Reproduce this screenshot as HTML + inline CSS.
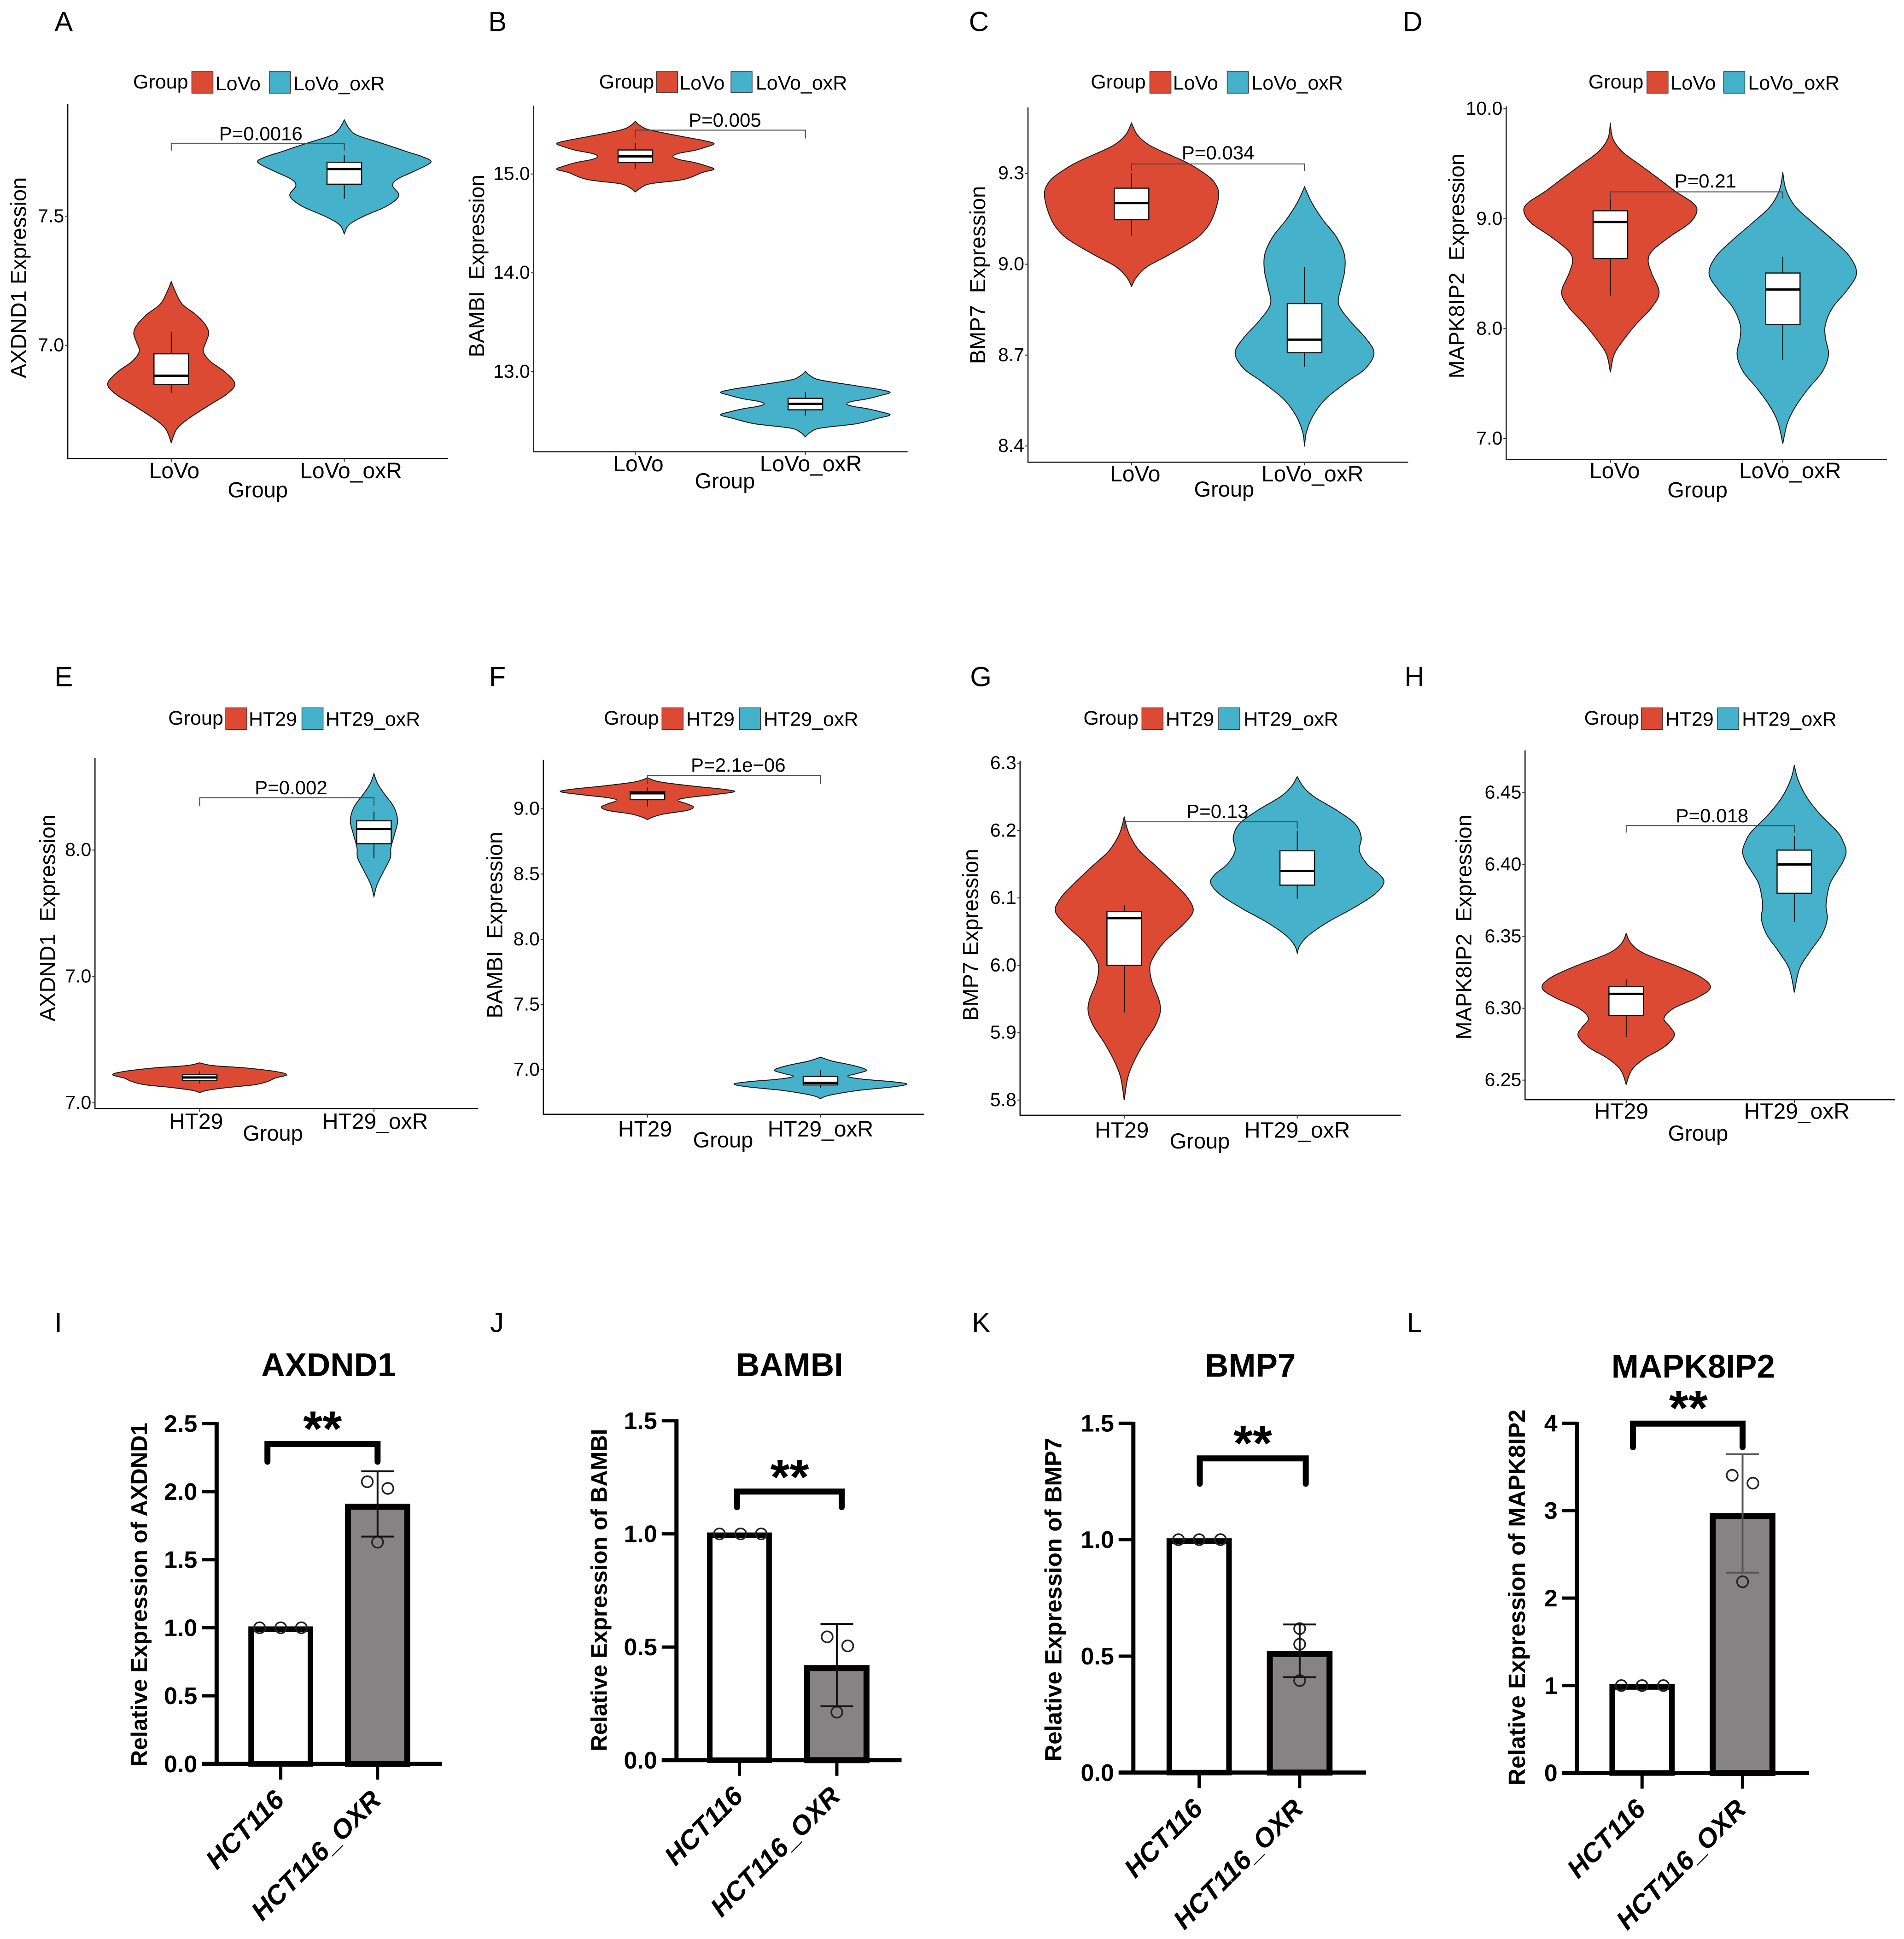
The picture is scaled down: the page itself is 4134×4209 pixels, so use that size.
<!DOCTYPE html>
<html lang="en">
<head>
<meta charset="utf-8">
<title>Expression violin and bar panels</title>
<style>
html,body{margin:0;padding:0;background:#fff;}
#figure{display:block;width:4134px;height:4209px;}
text{font-family:"Liberation Sans",Arial,sans-serif;fill:#000;white-space:pre;}
</style>
</head>
<body>
<svg id="figure" xmlns="http://www.w3.org/2000/svg" width="4134" height="4209" viewBox="0 0 4134 4209"></svg>
<script>
/* ---------- shared categories ---------- */
const categoriesLoVo = ['LoVo', 'LoVo_oxR'];
const categoriesHT29 = ['HT29', 'HT29_oxR'];
const categoriesHCT = ['HCT116', 'HCT116_OXR'];

/* ---------- panel A ---------- */
const ticksA = [7.0, 7.5];
const tickLabelsA = ['7.0', '7.5'];
const pLabelA = 'P=0.0016';
const pBracketA = [7.783];
const valueA1 = [7.247,7.212,7.160,7.120,7.081,7.048,7.016,6.976,6.937,6.898,6.852,6.813,6.767,6.715,6.675,6.623];
const densityA1 = [0,.06,.18,.40,.56,.62,.58,.53,.65,.88,1.05,.93,.62,.28,.09,0];
const boxA1 = [6.815,6.848,6.882,6.967,7.052];
const valueA2 = [7.873,7.840,7.814,7.788,7.768,7.749,7.729,7.709,7.677,7.644,7.618,7.579,7.539,7.500,7.467,7.432];
const densityA2 = [0,.08,.21,.55,.81,1.05,1.31,1.43,1.18,.88,.80,.90,.70,.32,.08,0];
const boxA2 = [7.568,7.624,7.683,7.709,7.736];

/* ---------- panel B ---------- */
const ticksB = [13, 14, 15];
const tickLabelsB = ['13.0', '14.0', '15.0'];
const pLabelB = 'P=0.005';
const pBracketB = [15.444];
const valueB1 = [15.533,15.489,15.444,15.376,15.342,15.308,15.273,15.239,15.209,15.178,15.147,15.116,15.082,15.048,15.014,14.945,14.901,14.856,14.819];
const densityB1 = [0,.08,.25,.80,1.1,1.3,1.17,.98,.72,.62,.72,.98,1.17,1.3,1.1,.8,.25,.08,0];
const boxB1 = [15.051,15.116,15.178,15.243,15.311];
const valueB2 = [13.003,12.959,12.915,12.856,12.822,12.791,12.760,12.726,12.700,12.675,12.650,12.624,12.593,12.562,12.528,12.474,12.429,12.385,12.340];
const densityB2 = [0,.08,.25,.85,1.2,1.4,1.25,1.03,.78,.68,.78,1.03,1.25,1.4,1.2,.85,.25,.08,0];
const boxB2 = [12.556,12.614,12.675,12.730,12.795];

/* ---------- panel C ---------- */
const ticksC = [8.4, 8.7, 9.0, 9.3];
const tickLabelsC = ['8.4', '8.7', '9.0', '9.3'];
const pLabelC = 'P=0.034';
const pBracketC = [9.331];
const valueC1 = [9.466,9.426,9.392,9.359,9.331,9.292,9.264,9.231,9.180,9.130,9.091,9.058,9.024,8.991,8.957,8.927];
const densityC1 = [0,.10,.30,.65,.95,1.25,1.38,1.43,1.38,1.27,1.1,.85,.55,.25,.08,0];
const boxC1 = [9.095,9.147,9.202,9.251,9.300];
const valueC2 = [9.255,9.203,9.147,9.091,9.035,8.980,8.924,8.868,8.812,8.757,8.707,8.656,8.612,8.556,8.500,8.445,8.398];
const densityC2 = [0,.12,.30,.52,.65,.66,.60,.56,.75,1.0,1.14,1.0,.70,.35,.14,.03,0];
const boxC2 = [8.662,8.708,8.751,8.870,8.991];

/* ---------- panel D ---------- */
const ticksD = [7, 8, 9, 10];
const tickLabelsD = ['7.0', '8.0', '9.0', '10.0'];
const pLabelD = 'P=0.21';
const pBracketD = [9.244];
const valueD1 = [9.874,9.730,9.607,9.484,9.361,9.244,9.146,9.069,8.961,8.838,8.715,8.623,8.500,8.331,8.193,8.039,7.885,7.762,7.603];
const densityD1 = [0,.04,.20,.50,.80,1.08,1.35,1.42,1.30,.98,.70,.62,.68,.80,.68,.42,.20,.06,0];
const boxD1 = [8.300,8.638,8.970,9.072,9.177];
const valueD2 = [9.422,9.269,9.115,8.961,8.808,8.654,8.500,8.346,8.193,8.039,7.916,7.762,7.609,7.455,7.301,7.148,6.954];
const densityD2 = [0,.05,.20,.50,.82,1.10,1.21,1.05,.82,.70,.70,.75,.65,.42,.22,.08,0];
const boxD2 = [7.716,8.036,8.356,8.506,8.654];

/* ---------- panel E ---------- */
const ticksE = [7.0, 7.5, 8.0];
const tickLabelsE = ['7.0', '7.0', '8.0'];
const pLabelE = 'P=0.002';
const pBracketE = [8.207];
const valueE1 = [7.158,7.147,7.138,7.124,7.111,7.098,7.084,7.071,7.060,7.049,7.040];
const densityE1 = [0,.22,.75,1.25,1.44,1.25,1.12,.90,.45,.12,0];
const boxE1 = [7.076,7.088,7.100,7.112,7.124];
const valueE2 = [8.302,8.263,8.223,8.170,8.116,8.063,8.009,7.969,7.916,7.862,7.816];
const densityE2 = [0,.06,.17,.33,.39,.34,.28,.27,.16,.05,0];
const boxE2 = [7.967,8.025,8.083,8.116,8.152];

/* ---------- panel F ---------- */
const ticksF = [7.0, 7.5, 8.0, 8.5, 9.0];
const tickLabelsF = ['7.0', '7.5', '8.0', '8.5', '9.0'];
const pLabelF = 'P=2.1e\u221206';
const pBracketF = [9.254];
const valueF1 = [9.238,9.207,9.174,9.153,9.132,9.109,9.085,9.065,9.039,9.013,8.987,8.961,8.935,8.917];
const densityF1 = [0,.20,.75,1.20,1.44,1.10,.65,.50,.65,.76,.65,.28,.08,0];
const boxF1 = [9.018,9.070,9.119,9.132,9.163];
const valueF2 = [7.096,7.065,7.031,6.997,6.972,6.948,6.927,6.907,6.889,6.868,6.842,6.816,6.795,6.777];
const densityF2 = [0,.20,.55,.76,.62,.45,.70,1.20,1.43,1.20,.65,.28,.08,0];
const boxF2 = [6.858,6.883,6.899,6.948,7.000];

/* ---------- panel G ---------- */
const ticksG = [5.8, 5.9, 6.0, 6.1, 6.2, 6.3];
const tickLabelsG = ['5.8', '5.9', '6.0', '6.1', '6.2', '6.3'];
const pLabelG = 'P=0.13';
const pBracketG = [6.213];
const valueG1 = [6.220,6.195,6.170,6.145,6.119,6.099,6.080,6.059,6.034,6.009,5.994,5.974,5.949,5.930,5.909,5.884,5.859,5.834,5.800];
const densityG1 = [0,.08,.25,.55,.85,1.05,1.13,.95,.65,.46,.42,.46,.57,.59,.50,.32,.17,.06,0];
const boxG1 = [5.930,6.000,6.070,6.080,6.089];
const valueG2 = [6.280,6.265,6.250,6.230,6.210,6.190,6.170,6.150,6.135,6.122,6.104,6.084,6.064,6.044,6.029,6.018];
const densityG2 = [0,.10,.28,.65,.95,1.05,1.02,1.15,1.35,1.42,1.25,.90,.50,.18,.04,0];
const boxG2 = [6.099,6.119,6.140,6.170,6.200];

/* ---------- panel H ---------- */
const ticksH = [6.25, 6.30, 6.35, 6.40, 6.45];
const tickLabelsH = ['6.25', '6.30', '6.35', '6.40', '6.45'];
const pLabelH = 'P=0.018';
const pBracketH = [6.427];
const valueH1 = [6.352,6.345,6.338,6.329,6.321,6.314,6.307,6.300,6.293,6.287,6.281,6.273,6.265,6.257,6.247];
const densityH1 = [0,.08,.30,.85,1.25,1.38,1.15,.78,.62,.72,.79,.62,.30,.09,0];
const boxH1 = [6.280,6.295,6.310,6.315,6.320];
const valueH2 = [6.469,6.459,6.447,6.435,6.423,6.416,6.409,6.402,6.395,6.386,6.372,6.362,6.351,6.339,6.327,6.311];
const densityH2 = [0,.06,.20,.42,.70,.80,.85,.80,.70,.58,.52,.54,.45,.25,.08,0];
const boxH2 = [6.360,6.380,6.400,6.410,6.420];

/* ---------- bar panels I-L ---------- */
const barTicksI = [0, 0.5, 1.0, 1.5, 2.0, 2.5];
const barTickLabelsI = ['0.0', '0.5', '1.0', '1.5', '2.0', '2.5'];
const barMeansI = [1.0, 1.90];
const barErrorHighI = [2.15];
const barErrorLowI = [1.67];
const controlPointsI = [1.0, 1.0, 1.0];
const treatedPointsI = [2.073, 2.024, 1.629];
const sigBracketI = [2.35, 2.22];

const barTicksJ = [0, 0.5, 1.0, 1.5];
const barTickLabelsJ = ['0.0', '0.5', '1.0', '1.5'];
const barMeansJ = [1.0, 0.413];
const barErrorHighJ = [0.602];
const barErrorLowJ = [0.238];
const controlPointsJ = [1.0, 1.0, 1.0];
const treatedPointsJ = [0.545, 0.505, 0.212];
const sigBracketJ = [1.187, 1.118];

const barTicksK = [0, 0.5, 1.0, 1.5];
const barTickLabelsK = ['0.0', '0.5', '1.0', '1.5'];
const barMeansK = [1.0, 0.515];
const barErrorHighK = [0.636];
const barErrorLowK = [0.409];
const controlPointsK = [1.0, 1.0, 1.0];
const treatedPointsK = [0.618, 0.551, 0.395];
const sigBracketK = [1.349, 1.240];

const barTicksL = [0, 1, 2, 3, 4];
const barTickLabelsL = ['0', '1', '2', '3', '4'];
const barMeansL = [1.0, 2.954];
const barErrorHighL = [3.645];
const barErrorLowL = [2.291];
const controlPointsL = [1.0, 1.0, 1.0];
const treatedPointsL = [3.404, 3.314, 2.187];
const sigBracketL = [3.995, 3.725];

/* ---------- layout (scale constants) ---------- */
const Z = 1568;
const KXL = 2060 / Z, KXR = 2074 / Z, KY1 = 1150 / Z, KY3 = 1409 / Z;
const RED = '#DC4A34', TEAL = '#45B1CA', GREY = '#858383';
const svg = document.getElementById('figure');
const NS = 'http://www.w3.org/2000/svg';

function make(tag, attrs, text, parent) {
  const el = document.createElementNS(NS, tag);
  for (const k in attrs) el.setAttribute(k, attrs[k]);
  if (text !== undefined) el.textContent = text;
  (parent || svg).appendChild(el);
  return el;
}

function smoothPath(pts) {
  let d = '';
  for (let i = 0; i < pts.length - 1; i++) {
    const p0 = pts[Math.max(0, i - 1)], p1 = pts[i], p2 = pts[i + 1], p3 = pts[Math.min(pts.length - 1, i + 2)];
    const c1x = p1[0] + (p2[0] - p0[0]) / 6, c1y = p1[1] + (p2[1] - p0[1]) / 6;
    const c2x = p2[0] - (p3[0] - p1[0]) / 6, c2y = p2[1] - (p3[1] - p1[1]) / 6;
    d += ' C' + c1x.toFixed(1) + ' ' + c1y.toFixed(1) + ' ' + c2x.toFixed(1) + ' ' + c2y.toFixed(1) + ' ' + p2[0].toFixed(1) + ' ' + p2[1].toFixed(1);
  }
  return d;
}

function panelLetter(p, sx, sy) {
  const t = make('text', { x: sx(p.letterX), y: sy(p.letterBase), 'font-size': 60 }, p.letter);
  
  
}

/* ---------- violin panel ---------- */
function drawViolinPanel(p) {
  const g = make('g', {});
  
  
  const sx = z => p.ox + z * p.kx;
  const sy = z => p.oy + z * p.ky;
  const yAxis = v => sy(p.z0 + (v - p.v0) * (p.z1 - p.z0) / (p.v1 - p.v0));
  const xAxis = i => sx(p.catX[i]);
  const densityScale = 100 * p.kx;

  panelLetter(p, sx, sy);

  /* legend */
  const lg = p.legend;
  const lt = make('text', { x: sx(lg.group), y: sy(lg.base), 'font-size': 43 }, 'Group', g);
  
  
  [[lg.s1, lg.t1, RED], [lg.s2, lg.t2, TEAL]].forEach((e, i) => {
    const sw = make('rect', { x: sx(e[0]), y: sy(lg.top), width: 46, height: sy(lg.bot) - sy(lg.top), fill: e[2], stroke: '#333', 'stroke-width': 1.5 }, undefined, g);
    
    
    const tx = make('text', { x: sx(e[1]), y: sy(lg.lbase) - 2, 'font-size': 43 }, p.cats[i], g);
    
    
  });

  /* axes */
  const ya = make('line', { x1: sx(p.l), x2: sx(p.l), y1: sy(p.t), y2: sy(p.b) + 1, stroke: '#111', 'stroke-width': 2.5 }, undefined, g);
  
  
  const xa = make('line', { x1: sx(p.l), x2: sx(p.r), y1: sy(p.b), y2: sy(p.b), stroke: '#111', 'stroke-width': 2.5 }, undefined, g);
  
  

  p.ticks.forEach((v, i) => {
    const tk = make('line', { x1: sx(p.l) - 6, x2: sx(p.l), y1: yAxis(v), y2: yAxis(v), stroke: '#333', 'stroke-width': 2 }, undefined, g);
    
    
    const tl = make('text', { x: sx(p.l) - 8, y: yAxis(v) + 13, 'font-size': 41, 'text-anchor': 'end' }, p.tickLabels[i], g);
    
    
  });

  p.cats.forEach((c, i) => {
    const tk = make('line', { x1: xAxis(i), x2: xAxis(i), y1: sy(p.b), y2: sy(p.b) + 7, stroke: '#333', 'stroke-width': 2 }, undefined, g);
    
    
    const tl = make('text', { x: sx(p.catLabelX[i]), y: sy(p.catBase), 'font-size': 48, 'text-anchor': 'middle' }, c, g);
    
    
  });

  const xt = make('text', { x: sx(p.groupX), y: sy(p.groupBase), 'font-size': 47, 'text-anchor': 'middle' }, 'Group', g);
  
  

  const tx0 = sx(p.titleX) + 17, ty0 = sy(p.titleY);
  const yt = make('text', { x: tx0, y: ty0, 'font-size': p.titleSize || 47, 'text-anchor': 'middle', transform: 'rotate(-90 ' + tx0 + ' ' + ty0 + ')' }, p.title, g);
  
  

  /* violins */
  p.violins.forEach((vn, i) => {
    const cx = xAxis(i);
    const right = vn.values.map((v, k) => [cx + vn.density[k] * densityScale, yAxis(v)]);
    const left = vn.values.map((v, k) => [cx - vn.density[k] * densityScale, yAxis(v)]).reverse();
    const d = 'M' + right[0][0].toFixed(1) + ' ' + right[0][1].toFixed(1) + smoothPath(right) + smoothPath(left) + ' Z';
    const path = make('path', { d: d, fill: i ? TEAL : RED, stroke: '#1a1a1a', 'stroke-width': 2 }, undefined, g);
    
    

    const b = vn.box;
    const wh = make('line', { x1: cx, x2: cx, y1: yAxis(b[0]), y2: yAxis(b[4]), stroke: '#111', 'stroke-width': 2 }, undefined, g);
    
    
    const bw = 37.5;
    const rc = make('rect', { x: cx - bw, width: bw * 2, y: yAxis(b[3]), height: yAxis(b[1]) - yAxis(b[3]), fill: '#fff', stroke: '#111', 'stroke-width': 2.5 }, undefined, g);
    
    
    const md = make('line', { x1: cx - bw, x2: cx + bw, y1: yAxis(b[2]), y2: yAxis(b[2]), stroke: '#000', 'stroke-width': 5 }, undefined, g);
    
    
  });

  /* p-value bracket */
  const by = yAxis(p.pBracket[0]);
  const br = make('path', { d: 'M' + xAxis(0) + ' ' + (by + p.pTick) + ' V' + by + ' H' + xAxis(1) + ' V' + (by + p.pTick), fill: 'none', stroke: '#444', 'stroke-width': 2 }, undefined, g);
  
  
  const pt = make('text', { x: sx(p.pX), y: sy(p.pBase), 'font-size': 42, 'text-anchor': 'middle' }, p.pLabel, g);
  
  
}

/* ---------- bar panel ---------- */
function drawBarPanel(p) {
  const g = make('g', {});
  
  
  const sx = z => p.ox + z * p.kx;
  const sy = z => p.oy + z * p.ky;
  const yAxis = v => sy(p.z0 + (v - p.v0) * (p.z1 - p.z0) / (p.v1 - p.v0));
  const xAxis = i => sx(p.catX[i]);
  const zeroY = yAxis(0);

  panelLetter(p, sx, sy);

  const tt = make('text', { x: sx(p.titleCX), y: sy(p.titleBase), 'font-size': 71, 'font-weight': 700, 'text-anchor': 'middle' }, p.chartTitle, g);
  
  

  const tx0 = sx(p.titleX) + 17, ty0 = sy(p.titleY);
  const yt = make('text', { x: tx0, y: ty0, 'font-size': p.titleSize, 'font-weight': 700, 'text-anchor': 'middle', transform: 'rotate(-90 ' + tx0 + ' ' + ty0 + ')' }, p.title, g);
  
  

  /* bars */
  const halfBar = 49 * p.kx;
  p.means.forEach((m, i) => {
    const r = make('rect', { x: xAxis(i) - halfBar, width: halfBar * 2, y: yAxis(m) + 3, height: zeroY - yAxis(m) - 3, fill: i ? GREY : '#fff', stroke: '#000', 'stroke-width': i ? 13 : 12 }, undefined, g);
    
    
  });

  /* axes */
  const ya = make('line', { x1: sx(p.l), x2: sx(p.l), y1: yAxis(p.ticks[p.ticks.length - 1]) - 3, y2: zeroY + 3, stroke: '#000', 'stroke-width': 9 }, undefined, g);
  
  
  const xa = make('line', { x1: sx(p.l) - 32, x2: sx(p.r), y1: zeroY, y2: zeroY, stroke: '#000', 'stroke-width': 9 }, undefined, g);
  
  

  p.ticks.forEach((v, i) => {
    const tk = make('line', { x1: sx(p.l) - 32, x2: sx(p.l), y1: yAxis(v), y2: yAxis(v), stroke: '#000', 'stroke-width': 7 }, undefined, g);
    
    
    const tl = make('text', { x: sx(p.l) - 42, y: yAxis(v) + 18, 'font-size': 52, 'font-weight': 700, 'text-anchor': 'end' }, p.tickLabels[i], g);
    
    
  });

  p.cats.forEach((c, i) => {
    const tk = make('line', { x1: xAxis(i), x2: xAxis(i), y1: zeroY, y2: zeroY + 34, stroke: '#000', 'stroke-width': 7 }, undefined, g);
    
    
    const ax = xAxis(i) + 11, ay = zeroY + 82;
    const tl = make('text', { x: ax, y: ay, 'font-size': 58, 'font-weight': 700, 'font-style': 'italic', 'text-anchor': 'end', transform: 'rotate(-45 ' + ax + ' ' + ay + ')' }, c, g);
    
    
  });

  /* points */
  const dot = (cx, v, i) => {
    const c = make('circle', { cx: cx, cy: yAxis(v), r: 12, fill: 'none', stroke: '#222', 'stroke-width': 3.5 }, undefined, g);
    
    
  };
  p.control.forEach((v, k) => dot(xAxis(0) + p.jitter0[k] * p.kx, v, 0));
  p.treated.forEach((v, k) => dot(xAxis(1) + p.jitter1[k] * p.kx, v, 1));

  /* error bar */
  const ex = xAxis(1), cap = 27 * p.kx, ec = p.errColor;
  const eb = make('path', { d: 'M' + ex + ' ' + yAxis(p.errHigh[0]) + ' V' + yAxis(p.errLow[0]) + ' M' + (ex - cap) + ' ' + yAxis(p.errHigh[0]) + ' H' + (ex + cap) + ' M' + (ex - cap) + ' ' + yAxis(p.errLow[0]) + ' H' + (ex + cap), fill: 'none', stroke: ec, 'stroke-width': 4 }, undefined, g);
  
  

  /* significance */
  const bx0 = xAxis(0) + p.brOff[0] * p.kx, bx1 = xAxis(1) + p.brOff[1] * p.kx;
  const sb = make('path', { d: 'M' + bx0 + ' ' + yAxis(p.sig[1]) + ' V' + yAxis(p.sig[0]) + ' H' + bx1 + ' V' + yAxis(p.sig[1]), fill: 'none', stroke: '#000', 'stroke-width': 13, 'stroke-linecap': 'round', 'stroke-linejoin': 'miter' }, undefined, g);
  
  
  const st = make('text', { x: sx(p.starX), y: sy(p.starY) + 55, 'font-size': 108, 'font-weight': 700, 'text-anchor': 'middle' }, '**', g);
  
  
}

/* ---------- panel configuration ---------- */
drawViolinPanel({ letter:'A', letterX:90, letterBase:92, ox:0, oy:0, kx:KXL, ky:KY1, l:112, t:308, b:1357, r:740,
  v0:7.0, z0:1022, v1:7.5, z1:640, catX:[283,569], cats:categoriesLoVo, ticks:ticksA, tickLabels:tickLabelsA,
  catLabelX:[288,580], catBase:1415, groupX:426, groupBase:1472, titleX:30, titleY:822, title:'AXDND1 Expression',
  legend:{group:220,s1:317,t1:356,s2:445,t2:485,base:262,lbase:270,top:212,bot:276},
  pLabel:pLabelA, pBracket:pBracketA, pX:431, pBase:415, pTick:16,
  violins:[{values:valueA1,density:densityA1,box:boxA1},{values:valueA2,density:densityA2,box:boxA2}] });

drawViolinPanel({ letter:'B', letterX:807, letterBase:92, ox:0, oy:0, kx:KXL, ky:KY1, l:882, t:313, b:1337, r:1500,
  v0:13, z0:1100, v1:15, z1:515, catX:[1050,1331], cats:categoriesLoVo, ticks:ticksB, tickLabels:tickLabelsB,
  catLabelX:[1055,1340], catBase:1395, groupX:1198, groupBase:1445, titleX:787, titleY:787, title:'BAMBI  Expression', titleSize:46,
  legend:{group:990,s1:1085,t1:1123,s2:1208,t2:1249,base:262,lbase:268,top:212,bot:274},
  pLabel:pLabelB, pBracket:pBracketB, pX:1198, pBase:375, pTick:18,
  violins:[{values:valueB1,density:densityB1,box:boxB1},{values:valueB2,density:densityB2,box:boxB2}] });

drawViolinPanel({ letter:'C', letterX:33, letterBase:92, ox:2060, oy:0, kx:KXR, ky:KY1, l:130, t:318, b:1368, r:754,
  v0:8.4, z0:1320, v1:9.3, z1:513, catX:[300,584], cats:categoriesLoVo, ticks:ticksC, tickLabels:tickLabelsC,
  catLabelX:[306,597], catBase:1425, groupX:452, groupBase:1470, titleX:47, titleY:814, title:'BMP7  Expression',
  legend:{group:233,s1:330,t1:368,s2:457,t2:497,base:262,lbase:268,top:212,bot:276},
  pLabel:pLabelC, pBracket:pBracketC, pX:442, pBase:472, pTick:15,
  violins:[{values:valueC1,density:densityC1,box:boxC1},{values:valueC2,density:densityC2,box:boxC2}] });

drawViolinPanel({ letter:'D', letterX:745, letterBase:92, ox:2060, oy:0, kx:KXR, ky:KY1, l:915, t:315, b:1360, r:1540,
  v0:7, z0:1298, v1:10, z1:322, catX:[1086,1369], cats:categoriesLoVo, ticks:ticksD, tickLabels:tickLabelsD,
  catLabelX:[1093,1381], catBase:1415, groupX:1229, groupBase:1472, titleX:833, titleY:787, title:'MAPK8IP2  Expression',
  legend:{group:1050,s1:1146,t1:1185,s2:1272,t2:1312,base:262,lbase:268,top:212,bot:276},
  pLabel:pLabelD, pBracket:pBracketD, pX:1242, pBase:555, pTick:15,
  violins:[{values:valueD1,density:densityD1,box:boxD1},{values:valueD2,density:densityD2,box:boxD2}] });

drawViolinPanel({ letter:'E', letterX:90, letterBase:122, ox:0, oy:1400, kx:KXL, ky:KY1, l:157, t:335, b:1372, r:790,
  v0:7.0, z0:1355, v1:8.0, z1:607, catX:[330,618], cats:categoriesHT29, ticks:ticksE, tickLabels:tickLabelsE,
  catLabelX:[324,620], catBase:1432, groupX:451, groupBase:1467, titleX:78, titleY:808, title:'AXDND1  Expression',
  legend:{group:278,s1:373,t1:411,s2:499,t2:538,base:236,lbase:242,top:186,bot:250},
  pLabel:pLabelE, pBracket:pBracketE, pX:481, pBase:442, pTick:18,
  violins:[{values:valueE1,density:densityE1,box:boxE1},{values:valueE2,density:densityE2,box:boxE2}] });

drawViolinPanel({ letter:'F', letterX:808, letterBase:122, ox:0, oy:1400, kx:KXL, ky:KY1, l:898, t:340, b:1389, r:1527,
  v0:7.0, z0:1257, v1:9.0, z1:485, catX:[1070,1356], cats:categoriesHT29, ticks:ticksF, tickLabels:tickLabelsF,
  catLabelX:[1066,1356], catBase:1455, groupX:1195, groupBase:1487, titleX:817, titleY:829, title:'BAMBI  Expression',
  legend:{group:998,s1:1094,t1:1134,s2:1222,t2:1262,base:236,lbase:242,top:186,bot:250},
  pLabel:pLabelF, pBracket:pBracketF, pX:1220, pBase:375, pTick:18,
  violins:[{values:valueF1,density:densityF1,box:boxF1},{values:valueF2,density:densityF2,box:boxF2}] });

drawViolinPanel({ letter:'G', letterX:35, letterBase:122, ox:2060, oy:1400, kx:KXR, ky:KY1, l:117, t:343, b:1392, r:742,
  v0:5.8, z0:1347, v1:6.3, z1:350, catX:[288,572], cats:categoriesHT29, ticks:ticksG, tickLabels:tickLabelsG,
  catLabelX:[284,572], catBase:1458, groupX:412, groupBase:1490, titleX:35, titleY:858, title:'BMP7 Expression',
  legend:{group:221,s1:317,t1:356,s2:443,t2:484,base:236,lbase:242,top:186,bot:250},
  pLabel:pLabelG, pBracket:pBracketG, pX:441, pBase:512, pTick:15,
  violins:[{values:valueG1,density:densityG1,box:boxG1},{values:valueG2,density:densityG2,box:boxG2}] });

drawViolinPanel({ letter:'H', letterX:748, letterBase:122, ox:2060, oy:1400, kx:KXR, ky:KY1, l:946, t:312, b:1346, r:1553,
  v0:6.25, z0:1288, v1:6.45, z1:437, catX:[1112,1388], cats:categoriesHT29, ticks:ticksH, tickLabels:tickLabelsH,
  catLabelX:[1104,1392], catBase:1402, groupX:1230, groupBase:1467, titleX:845, titleY:835, title:'MAPK8IP2  Expression',
  legend:{group:1043,s1:1137,t1:1176,s2:1262,t2:1302,base:236,lbase:242,top:186,bot:250},
  pLabel:pLabelH, pBracket:pBracketH, pX:1253, pBase:525, pTick:15,
  violins:[{values:valueH1,density:densityH1,box:boxH1},{values:valueH2,density:densityH2,box:boxH2}] });

drawBarPanel({ letter:'I', letterX:90, letterBase:102, ox:0, oy:2800, kx:KXL, ky:KY3, l:358, r:730,
  v0:0, z0:1145, v1:2.5, z1:323, catX:[464,624], cats:categoriesHCT, ticks:barTicksI, tickLabels:barTickLabelsI,
  chartTitle:'AXDND1', titleCX:543, titleBase:208, title:'Relative Expression of AXDND1', titleSize:49.5, titleX:230, titleY:736,
  means:barMeansI, errHigh:barErrorHighI, errLow:barErrorLowI, control:controlPointsI, treated:treatedPointsI,
  jitter0:[-35,0,34], jitter1:[-17,17,0], sig:sigBracketI, brOff:[-22,0], starX:533, starY:315, errColor:'#111' });

drawBarPanel({ letter:'J', letterX:810, letterBase:102, ox:0, oy:2800, kx:KXL, ky:KY3, l:1118, r:1490,
  v0:0, z0:1136, v1:1.5, z1:316, catX:[1222,1383], cats:categoriesHCT, ticks:barTicksJ, tickLabels:barTickLabelsJ,
  chartTitle:'BAMBI', titleCX:1305, titleBase:208, title:'Relative Expression of BAMBI', titleSize:49, titleX:990, titleY:725,
  means:barMeansJ, errHigh:barErrorHighJ, errLow:barErrorLowJ, control:controlPointsJ, treated:treatedPointsJ,
  jitter0:[-33,2,36], jitter1:[-16,18,0], sig:sigBracketJ, brOff:[-4,8], starX:1305, starY:432, errColor:'#111' });

drawBarPanel({ letter:'K', letterX:38, letterBase:102, ox:2060, oy:2800, kx:KXR, ky:KY3, l:303, r:685,
  v0:0, z0:1166, v1:1.5, z1:322, catX:[411,576], cats:categoriesHCT, ticks:barTicksK, tickLabels:barTickLabelsK,
  chartTitle:'BMP7', titleCX:495, titleBase:210, title:'Relative Expression of BMP7', titleSize:51, titleX:172, titleY:748,
  means:barMeansK, errHigh:barErrorHighK, errLow:barErrorLowK, control:controlPointsK, treated:treatedPointsK,
  jitter0:[-34,0,35], jitter1:[0,0,0], sig:sigBracketK, brOff:[1,10], starX:499, starY:350, errColor:'#111' });

drawBarPanel({ letter:'L', letterX:752, letterBase:102, ox:2060, oy:2800, kx:KXR, ky:KY3, l:1031, r:1412,
  v0:0, z0:1167, v1:4, z1:322, catX:[1138,1303], cats:categoriesHCT, ticks:barTicksL, tickLabels:barTickLabelsL,
  chartTitle:'MAPK8IP2', titleCX:1222, titleBase:212, title:'Relative Expression of MAPK8IP2', titleSize:51, titleX:933, titleY:743,
  means:barMeansL, errHigh:barErrorHighL, errLow:barErrorLowL, control:controlPointsL, treated:treatedPointsL,
  jitter0:[-34,0,35], jitter1:[-17,17,0], sig:sigBracketL, brOff:[-15,0], starX:1214, starY:265, errColor:'#555' });
</script>
</body>
</html>
